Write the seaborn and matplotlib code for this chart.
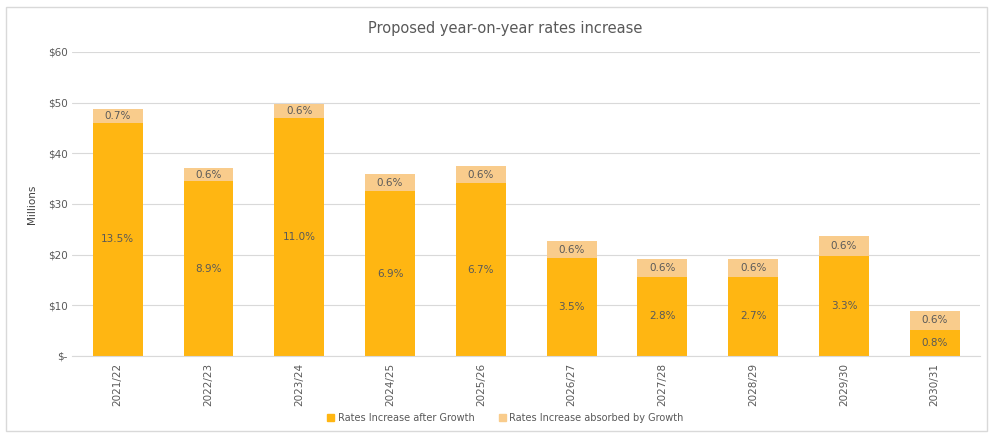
import pandas as pd
import numpy as np
import seaborn as sns
import matplotlib.pyplot as plt
from matplotlib.patches import Patch

# values (millions)
years = ['2021/22', '2022/23', '2023/24', '2024/25', '2025/26',
         '2026/27', '2027/28', '2028/29', '2029/30', '2030/31']
after_growth = [46.0, 34.5, 46.9, 32.5, 34.1, 19.3, 15.6, 15.6, 19.7, 5.1]
absorbed = [2.7, 2.6, 2.8, 3.4, 3.4, 3.4, 3.5, 3.5, 4.0, 3.8]
after_pct = ['13.5%', '8.9%', '11.0%', '6.9%', '6.7%', '3.5%', '2.8%', '2.7%', '3.3%', '0.8%']
absorbed_pct = ['0.7%', '0.6%', '0.6%', '0.6%', '0.6%', '0.6%', '0.6%', '0.6%', '0.6%', '0.6%']

df = pd.DataFrame({'Year': years, 'After': after_growth, 'Absorbed': absorbed})
df['Total'] = df['After'] + df['Absorbed']

orange = '#FFB612'
light = '#F9CC8C'
grey = '#595959'

sns.set_style('white')
fig = plt.figure(figsize=(9.91, 4.33), dpi=100)
ax = fig.add_axes([0.073, 0.178, 0.916, 0.702])

# stacked bars: total first, orange part drawn over it
sns.barplot(data=df, x='Year', y='Total', color=light, width=0.55, saturation=1,
            linewidth=0, ax=ax)
sns.barplot(data=df, x='Year', y='After', color=orange, width=0.55, saturation=1,
            linewidth=0, ax=ax)

for i in range(len(years)):
    ax.text(i, after_growth[i] / 2, after_pct[i], ha='center', va='center', fontsize=7.5, color=grey)
    ax.text(i, after_growth[i] + absorbed[i] / 2, absorbed_pct[i], ha='center', va='center',
            fontsize=7.5, color=grey)

ax.set_ylim(0, 60)
ax.set_xlim(-0.5, len(years) - 0.5)
ax.set_yticks(range(0, 61, 10))
ax.set_yticklabels(['$-'] + ['$%d' % v for v in range(10, 61, 10)])
ax.yaxis.grid(True, color='#D9D9D9', linewidth=0.8)
ax.set_axisbelow(True)
for s in ['top', 'right', 'left']:
    ax.spines[s].set_visible(False)
ax.spines['bottom'].set_color('#D9D9D9')
ax.tick_params(axis='both', length=0, labelsize=7.5, labelcolor=grey)
ax.tick_params(axis='x', rotation=90, pad=5)
ax.set_xlabel('')
ax.set_ylabel('Millions', fontsize=7.5, color='#404040', labelpad=8)

fig.text(0.51, 0.935, 'Proposed year-on-year rates increase', ha='center', va='center',
         fontsize=10.5, color=grey)

handles = [Patch(color=orange, label='Rates Increase after Growth'),
           Patch(color=light, label='Rates Increase absorbed by Growth')]
fig.legend(handles=handles, loc='center', bbox_to_anchor=(0.51, 0.035), ncol=2, frameon=False,
           fontsize=7, labelcolor=grey, handlelength=0.7, handleheight=0.7, columnspacing=2.5,
           handletextpad=0.4)

# light frame round the chart
fig.patches.append(plt.Rectangle((0.006, 0.004), 0.99, 0.98, transform=fig.transFigure,
                                 fill=False, edgecolor='#D9D9D9', linewidth=1))

plt.savefig('out.png', dpi=100)
